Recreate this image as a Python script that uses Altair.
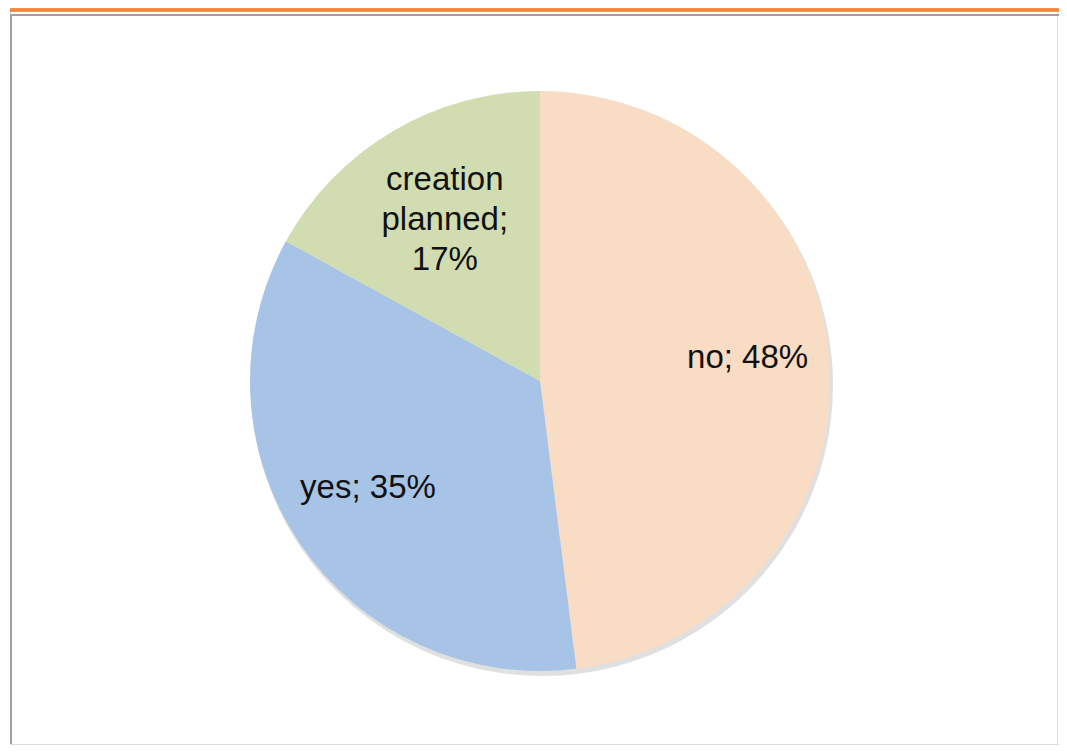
import altair as alt
import pandas as pd

categories = ["no", "yes", "creation planned"]
values = [48, 35, 17]
colors = ["#F9DCC4", "#A7C3E6", "#D1DDB1"]

labels = []
for c, v in zip(categories, values):
    if " " in c:
        labels.append(c.replace(" ", "\n") + ";\n" + f"{v}%")
    else:
        labels.append(f"{c}; {v}%")

df = pd.DataFrame({
    "category": categories,
    "value": values,
    "order": list(range(len(categories))),
    "label": labels,
})
total = float(sum(values))

W, H = 1051, 737
CX, CY, R = 530, 372, 290

theta_scale = alt.Scale(domain=[0, total])

base = alt.Chart(df).encode(
    x=alt.value(CX),
    y=alt.value(CY),
)

shadow = alt.Chart(df).mark_arc(outerRadius=R + 1, color="#999999", opacity=0.3).encode(
    theta=alt.Theta("value:Q", stack=True, scale=theta_scale),
    order=alt.Order("order:Q"),
    x=alt.value(CX + 2),
    y=alt.value(CY + 4),
)

pie = base.mark_arc(outerRadius=R, stroke=None).encode(
    theta=alt.Theta("value:Q", stack=True, scale=theta_scale),
    order=alt.Order("order:Q"),
    color=alt.Color("category:N", scale=alt.Scale(domain=categories, range=colors), legend=None),
)

text_base = base.transform_window(
    cum="sum(value)", sort=[alt.SortField("order")]
).transform_calculate(
    mid="datum.cum - datum.value / 2"
)

text_main = text_base.transform_filter("datum.order < 2").mark_text(
    radius=208, font="Liberation Sans", fontSize=33, color="#111111",
    align="center", baseline="middle", dy=-10
).encode(
    theta=alt.Theta("mid:Q", stack=None, scale=theta_scale),
    text="label:N",
)

text_small = text_base.transform_filter("datum.order >= 2").mark_text(
    radius=187, font="Liberation Sans", fontSize=33, color="#111111",
    align="center", baseline="middle", lineBreak="\n", lineHeight=40, dy=-40
).encode(
    theta=alt.Theta("mid:Q", stack=None, scale=theta_scale),
    text="label:N",
)

orange = alt.Chart(df).mark_rule(color="#F0883A", strokeWidth=3).encode(
    x=alt.value(0), x2=alt.value(W), y=alt.value(1)
)
frame_top = alt.Chart(df).mark_rule(color="#A0A0A0", strokeWidth=2).encode(
    x=alt.value(0), x2=alt.value(W), y=alt.value(6)
)
frame_left = alt.Chart(df).mark_rule(color="#A0A0A0", strokeWidth=2).encode(
    x=alt.value(1), y=alt.value(6), y2=alt.value(H)
)
frame_bottom = alt.Chart(df).mark_rule(color="#DDDDDD", strokeWidth=2).encode(
    x=alt.value(0), x2=alt.value(W), y=alt.value(H - 1)
)

chart = alt.layer(
    orange, frame_top, frame_left, frame_bottom, shadow, pie, text_main, text_small
).properties(
    width=W, height=H,
    autosize=alt.AutoSizeParams(type="fit", contains="padding"),
    padding=0,
).configure_view(stroke=None).configure(background="white")

chart.save("out.html", embed_options={"renderer": "svg", "actions": False})
